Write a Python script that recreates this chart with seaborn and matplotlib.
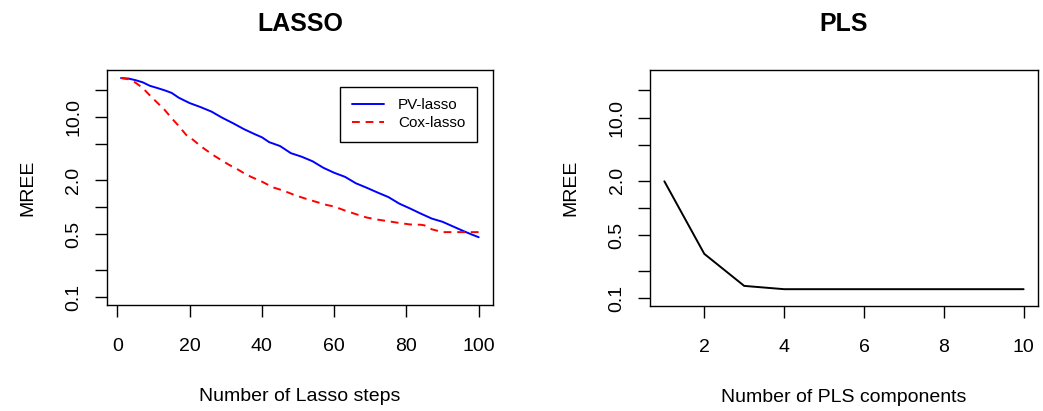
import pandas as pd
import seaborn as sns
import matplotlib
matplotlib.use("Agg")
import matplotlib.pyplot as plt
from matplotlib.ticker import NullLocator

# values
lasso_steps_pv = [1, 3, 5, 7, 9, 11, 13, 15, 17, 20, 23, 26, 29, 32, 35, 38, 40, 42, 45, 48,
                  51, 54, 57, 60, 63, 66, 69, 72, 75, 78, 81, 84, 87, 90, 93, 96, 98, 100]
mree_pv = [27.3, 27.0, 25.9, 24.5, 22.4, 21.2, 20.0, 18.7, 16.5, 14.4, 13.0, 11.6, 9.9, 8.6,
           7.4, 6.5, 6.0, 5.3, 4.8, 4.0, 3.65, 3.25, 2.75, 2.42, 2.18, 1.85, 1.65, 1.46, 1.30,
           1.10, 0.97, 0.85, 0.75, 0.69, 0.61, 0.54, 0.50, 0.465]

lasso_steps_cox = [1, 3, 5, 7, 9, 11, 13, 15, 17, 19, 21, 23, 25, 27, 29, 31, 33, 35, 37, 40,
                   43, 46, 49, 52, 55, 58, 60, 63, 66, 69, 72, 75, 78, 81, 84, 85, 87, 90, 95, 100]
mree_cox = [27.3, 26.5, 24.3, 21.2, 17.5, 14.6, 12.2, 9.8, 8.0, 6.4, 5.6, 4.8, 4.2, 3.7, 3.3,
            2.95, 2.68, 2.40, 2.18, 1.93, 1.67, 1.53, 1.37, 1.25, 1.15, 1.06, 1.02, 0.92, 0.84,
            0.77, 0.73, 0.70, 0.67, 0.645, 0.64, 0.63, 0.57, 0.53, 0.53, 0.53]

pls_components = [1, 2, 3, 4, 5, 6, 7, 8, 9, 10]
mree_pls = [1.97, 0.31, 0.137, 0.126, 0.126, 0.126, 0.126, 0.126, 0.126, 0.126]

y_ticks = [0.1, 0.2, 0.5, 1, 2, 5, 10, 20]
y_tick_labels = ["0.1", "", "0.5", "", "2.0", "", "10.0", ""]

sns.set_style("white")
plt.rcParams["font.family"] = ["Liberation Sans", "DejaVu Sans"]
plt.rcParams["text.color"] = "black"
plt.rcParams["axes.labelcolor"] = "black"
plt.rcParams["xtick.color"] = "black"
plt.rcParams["ytick.color"] = "black"

fig = plt.figure(figsize=(10.43, 4.11), dpi=100)
ax1 = fig.add_axes([0.1023, 0.2579, 0.3704, 0.5718])
ax2 = fig.add_axes([0.6232, 0.2555, 0.3720, 0.5742])

pv = pd.DataFrame({"step": lasso_steps_pv, "MREE": mree_pv})
cox = pd.DataFrame({"step": lasso_steps_cox, "MREE": mree_cox})
pls = pd.DataFrame({"comp": pls_components, "MREE": mree_pls})

sns.lineplot(data=pv, x="step", y="MREE", color="#0000FF", lw=1.4, ax=ax1, label="PV-lasso")
sns.lineplot(data=cox, x="step", y="MREE", color="#FF0000", lw=1.4, ax=ax1,
             label="Cox-lasso", dashes=False)
ax1.lines[1].set_dashes((4, 3))
sns.lineplot(data=pls, x="comp", y="MREE", color="black", lw=1.4, ax=ax2)

for ax in (ax1, ax2):
    ax.set_yscale("log")
    ax.set_ylim(10 ** -1.0856, 10 ** 1.526)
    ax.set_yticks(y_ticks)
    ax.set_yticklabels(y_tick_labels)
    ax.yaxis.set_minor_locator(NullLocator())
    ax.tick_params(axis="both", direction="out", length=8.5, width=1.0, color="black",
                   labelsize=14, labelcolor="black", left=True, bottom=True)
    ax.tick_params(axis="x", pad=15)
    ax.tick_params(axis="y", pad=9)
    for lab in ax.get_yticklabels():
        lab.set_rotation(90)
        lab.set_va("center")
    for sp in ax.spines.values():
        sp.set_visible(True)
        sp.set_color("black")
        sp.set_linewidth(1.0)
    ax.set_ylabel("MREE", fontsize=14, labelpad=21, color="black")

ax1.set_xlim(-2.96, 103.96)
ax1.set_xticks([0, 20, 40, 60, 80, 100])
ax1.set_xlabel("Number of Lasso steps", fontsize=14, labelpad=24, color="black")
ax1.set_title("LASSO", fontsize=18, fontweight="bold", pad=28, color="black")

ax2.set_xlim(0.64, 10.36)
ax2.set_xticks([2, 4, 6, 8, 10])
ax2.set_xlabel("Number of PLS components", fontsize=14, labelpad=24, color="black")
ax2.set_title("PLS", fontsize=18, fontweight="bold", pad=28, color="black")

leg = ax1.legend(loc="upper right", bbox_to_anchor=(0.958, 0.929), fontsize=11,
                 frameon=True, fancybox=False, framealpha=1, edgecolor="black",
                 borderpad=0.77, handlelength=2.1, handletextpad=0.9, labelspacing=0.24,
                 borderaxespad=0)
leg.get_frame().set_linewidth(1.0)
for t in leg.get_texts():
    t.set_color("black")

fig.savefig("out.png", dpi=100)
